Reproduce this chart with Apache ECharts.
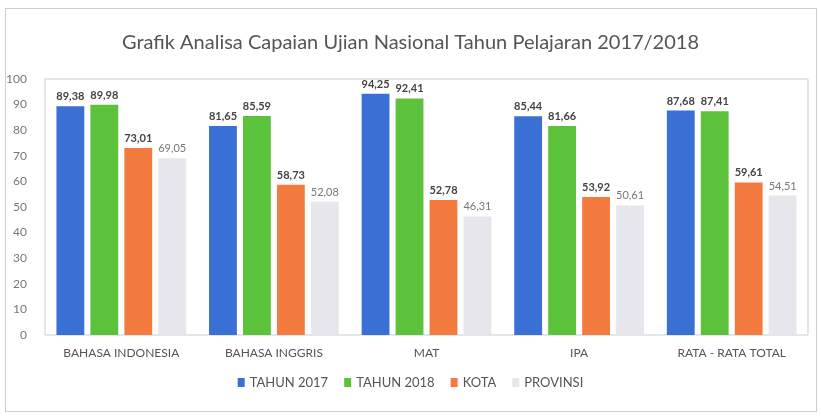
<!DOCTYPE html>
<html>
<head>
  <meta charset="UTF-8">
  <title>Grafik</title>
  <script src="https://cdn.jsdelivr.net/npm/echarts@6/dist/echarts.min.js"></script>
  <style>
    html, body { margin: 0; padding: 0; background: #fff; }
    #frame { position: absolute; left: 5px; top: 8px; width: 812px; height: 404px; border: 1px solid #c9d0d4; box-sizing: border-box; }
    #main { position: absolute; left: 0; top: 0; width: 821px; height: 416px; }
  </style>
</head>
<body>
<div id="frame"></div>
<div id="main"></div>
<script type="text/javascript">
  // data
  var categories = ['BAHASA INDONESIA', 'BAHASA INGGRIS', 'MAT', 'IPA', 'RATA - RATA TOTAL'];
  var tahun2017 = [89.38, 81.65, 94.25, 85.44, 87.68];
  var tahun2018 = [89.98, 85.59, 92.41, 81.66, 87.41];
  var kota = [73.01, 58.73, 52.78, 53.92, 59.61];
  var provinsi = [69.05, 52.08, 46.31, 50.61, 54.51];
  var seriesNames = ['TAHUN 2017', 'TAHUN 2018', 'KOTA', 'PROVINSI'];

  var myChart = echarts.init(document.getElementById('main'));
  var font = 'Lato, "Open Sans", sans-serif';

  function fmt(p) {
    return p.value.toFixed(2).replace('.', ',');
  }

  function bar(name, data, color, labelColor, bold) {
    return {
      name: name,
      type: 'bar',
      data: data,
      barGap: '22%',
      barCategoryGap: '15%',
      itemStyle: { color: color },
      label: {
        show: true,
        position: 'top',
        distance: 4,
        formatter: fmt,
        color: labelColor,
        fontSize: 11,
        fontWeight: bold ? 'bold' : 'normal',
        fontFamily: font
      }
    };
  }

  myChart.setOption({
    animation: false,
    title: {
      text: 'Grafik Analisa Capaian Ujian Nasional Tahun Pelajaran 2017/2018',
      left: 'center',
      top: 28,
      textStyle: { color: '#555', fontSize: 20, fontWeight: 'normal', fontFamily: font }
    },
    legend: {
      data: seriesNames,
      bottom: 22,
      left: 'center',
      itemWidth: 7,
      itemHeight: 9,
      itemGap: 16,
      icon: 'rect',
      textStyle: { color: '#555', fontSize: 13, fontFamily: font }
    },
    grid: {
      left: 45,
      right: 13,
      top: 79,
      bottom: 81,
      show: true,
      borderColor: '#c5cfd6',
      borderWidth: 1
    },
    xAxis: {
      type: 'category',
      data: categories,
      axisLine: { show: false },
      axisTick: { show: false },
      axisLabel: { color: '#555', fontSize: 12, fontFamily: font, margin: 12 }
    },
    yAxis: {
      type: 'value',
      min: 0,
      max: 100,
      interval: 10,
      splitLine: { show: false },
      axisLine: { show: false },
      axisTick: { show: false },
      axisLabel: { color: '#777', fontSize: 12, fontFamily: font, margin: 18 }
    },
    series: [
      bar(seriesNames[0], tahun2017, '#3a6fd3', '#444', true),
      bar(seriesNames[1], tahun2018, '#5cc23c', '#444', true),
      bar(seriesNames[2], kota, '#f47b3f', '#444', true),
      bar(seriesNames[3], provinsi, '#e7e6ec', '#777', false)
    ]
  });
</script>
</body>
</html>
